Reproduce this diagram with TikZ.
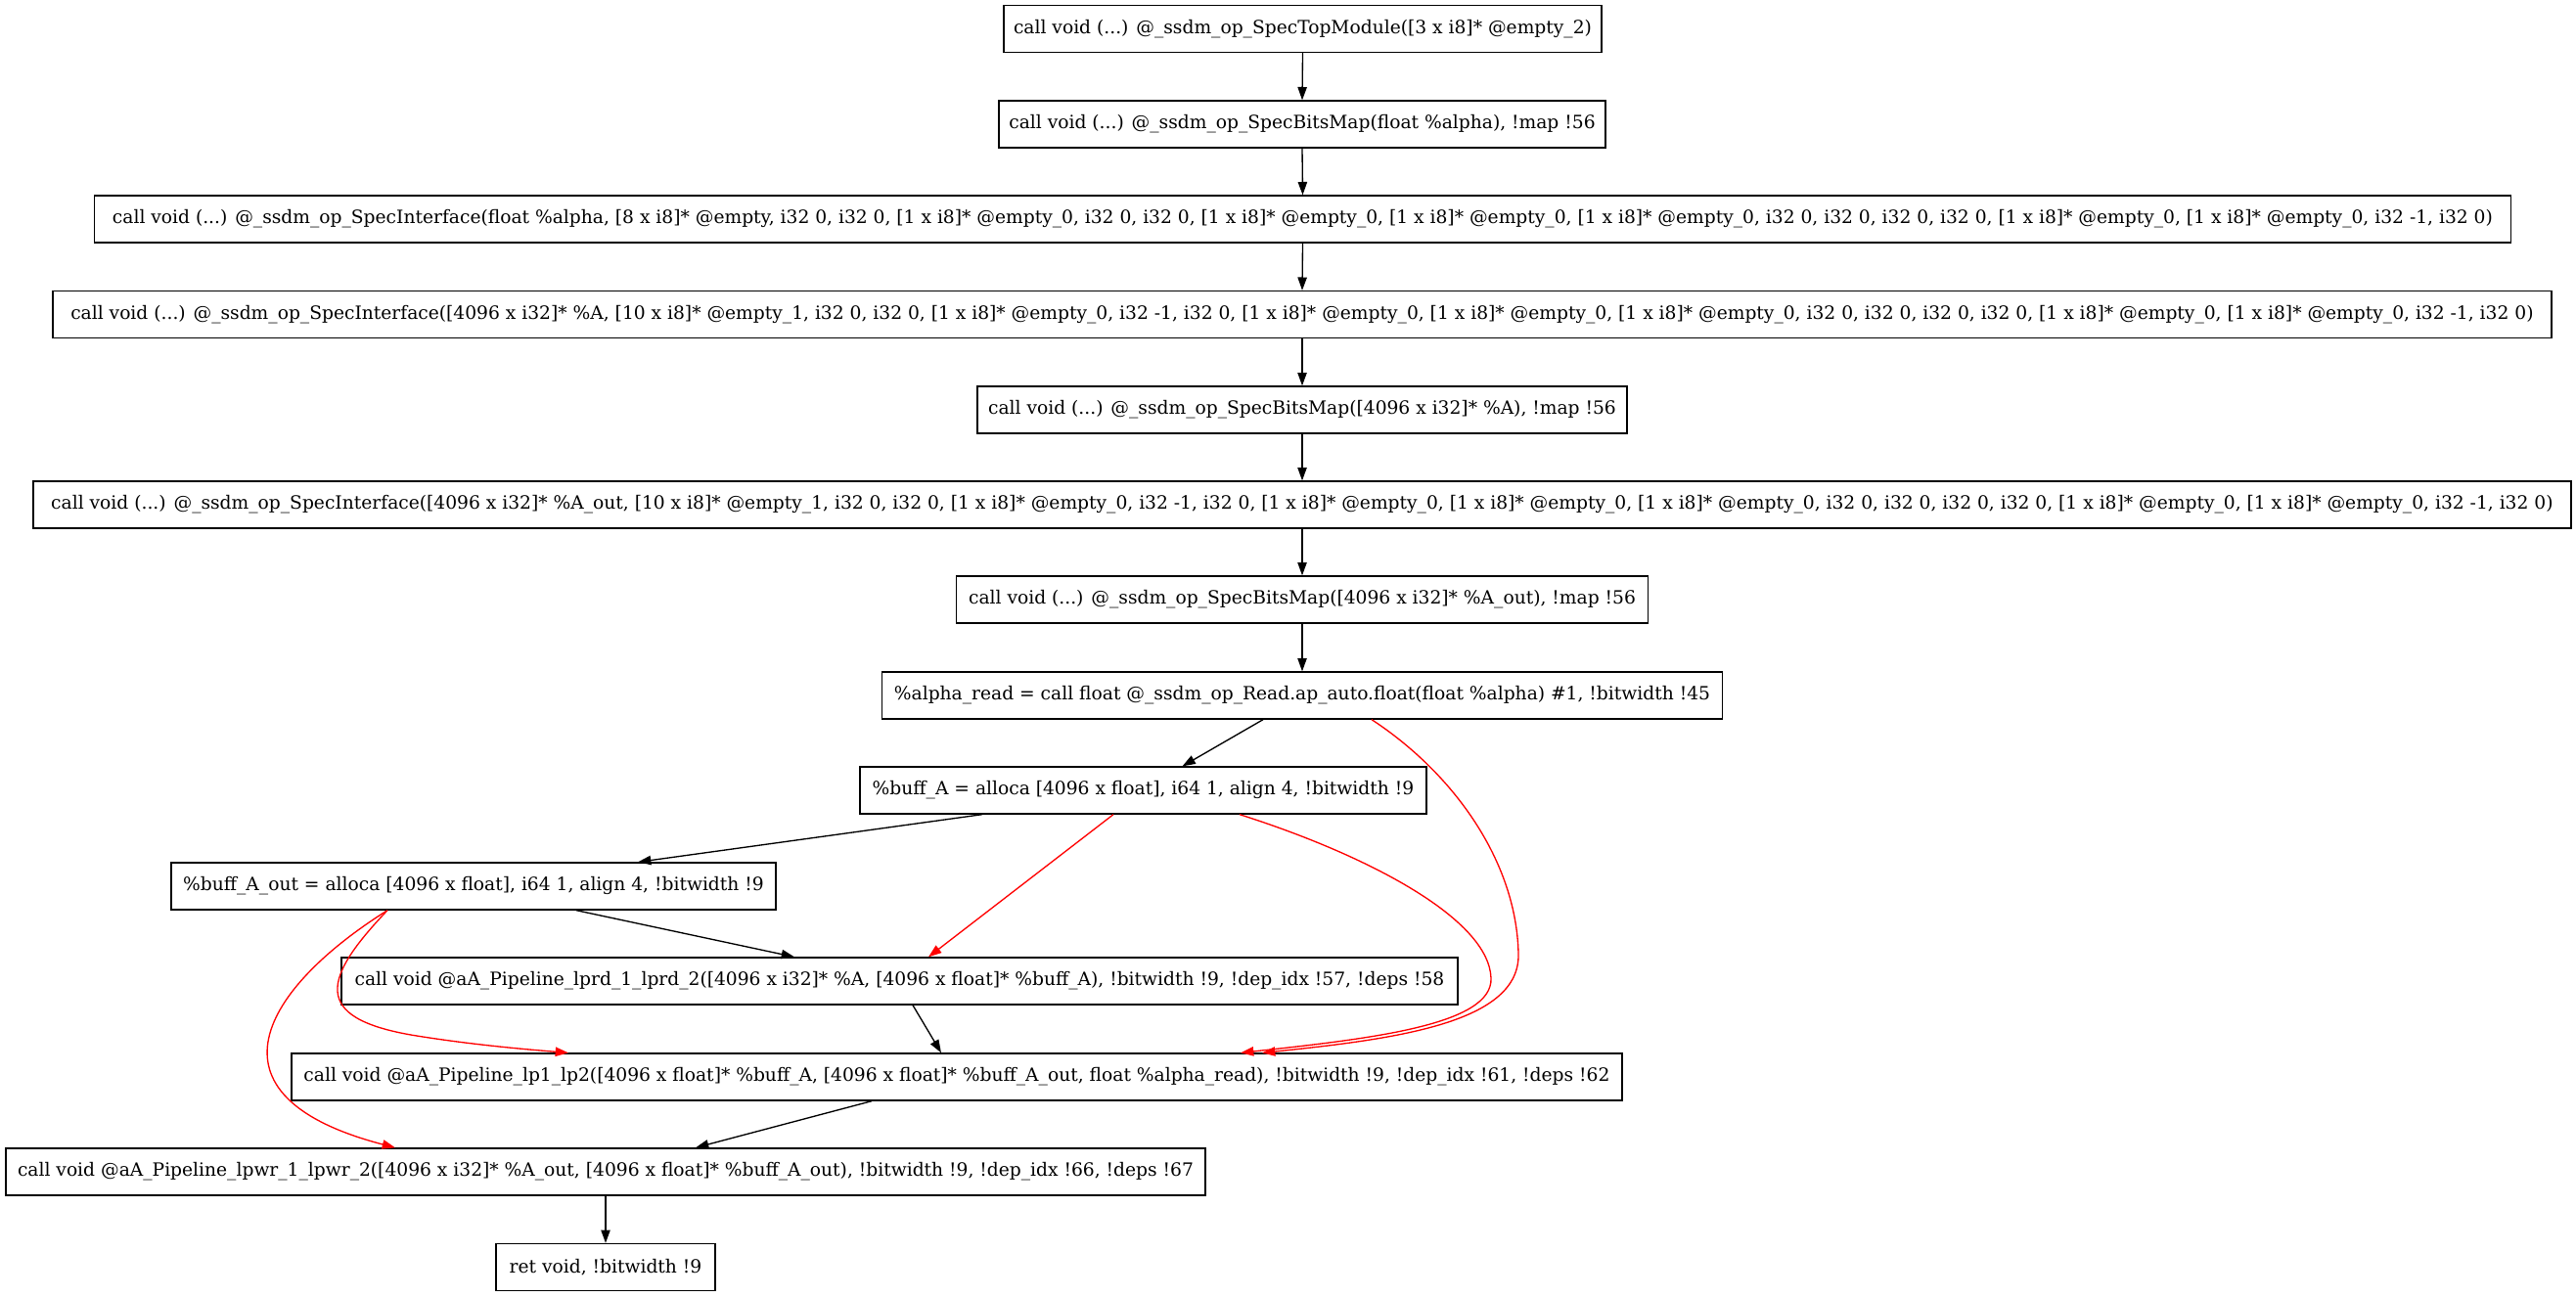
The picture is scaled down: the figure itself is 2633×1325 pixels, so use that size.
\documentclass[tikz,border=0pt]{standalone}
\usepackage{fontspec}
\setmainfont{DejaVu Serif}
\usetikzlibrary{arrows.meta,calc}

\begin{document}
\begin{tikzpicture}[x=0.75pt,y=-0.75pt,
  irbox/.style={draw=black, line width=1pt, inner sep=0pt, minimum height=36pt,
    minimum width=#1*0.75pt, font=\fontsize{14pt}{16pt}\selectfont},
  flow/.style={draw=black, line width=1pt, -{Triangle[length=10pt,width=7pt]}},
  dep/.style={draw=red, line width=1pt, -{Triangle[length=10pt,width=7pt]}, fill=none}]

\useasboundingbox (0,0) rectangle (2633,1325);

% instruction nodes, top to bottom
\node[irbox=611]  (n1)  at (1331.5,29.5) {call void (...) @\_ssdm\_op\_SpecTopModule([3 x i8]* @empty\_2)};
\node[irbox=620]  (n2)  at (1331,127) {call void (...) @\_ssdm\_op\_SpecBitsMap(float \%alpha), !map !56};
\node[irbox=2470] (n3)  at (1331.5,224) {call void (...) @\_ssdm\_op\_SpecInterface(float \%alpha, [8 x i8]* @empty, i32 0, i32 0, [1 x i8]* @empty\_0, i32 0, i32 0, [1 x i8]* @empty\_0, [1 x i8]* @empty\_0, [1 x i8]* @empty\_0, i32 0, i32 0, i32 0, i32 0, [1 x i8]* @empty\_0, [1 x i8]* @empty\_0, i32 -1, i32 0)};
\node[irbox=2554] (n4)  at (1331,321.5) {call void (...) @\_ssdm\_op\_SpecInterface([4096 x i32]* \%A, [10 x i8]* @empty\_1, i32 0, i32 0, [1 x i8]* @empty\_0, i32 -1, i32 0, [1 x i8]* @empty\_0, [1 x i8]* @empty\_0, [1 x i8]* @empty\_0, i32 0, i32 0, i32 0, i32 0, [1 x i8]* @empty\_0, [1 x i8]* @empty\_0, i32 -1, i32 0)};
\node[irbox=664]  (n5)  at (1331,419) {call void (...) @\_ssdm\_op\_SpecBitsMap([4096 x i32]* \%A), !map !56};
\node[irbox=2594] (n6)  at (1331,516) {call void (...) @\_ssdm\_op\_SpecInterface([4096 x i32]* \%A\_out, [10 x i8]* @empty\_1, i32 0, i32 0, [1 x i8]* @empty\_0, i32 -1, i32 0, [1 x i8]* @empty\_0, [1 x i8]* @empty\_0, [1 x i8]* @empty\_0, i32 0, i32 0, i32 0, i32 0, [1 x i8]* @empty\_0, [1 x i8]* @empty\_0, i32 -1, i32 0)};
\node[irbox=707]  (n7)  at (1331,613) {call void (...) @\_ssdm\_op\_SpecBitsMap([4096 x i32]* \%A\_out), !map !56};
\node[irbox=859]  (n8)  at (1331,711) {\%alpha\_read = call float @\_ssdm\_op\_Read.ap\_auto.float(float \%alpha) \#1, !bitwidth !45};
\node[irbox=579]  (n9)  at (1168.5,808) {\%buff\_A = alloca [4096 x float], i64 1, align 4, !bitwidth !9};
\node[irbox=618]  (n10) at (484,906) {\%buff\_A\_out = alloca [4096 x float], i64 1, align 4, !bitwidth !9};
\node[irbox=1141] (n11) at (919.5,1003) {call void @aA\_Pipeline\_lprd\_1\_lprd\_2([4096 x i32]* \%A, [4096 x float]* \%buff\_A), !bitwidth !9, !dep\_idx !57, !deps !58};
\node[irbox=1360] (n12) at (978,1101) {call void @aA\_Pipeline\_lp1\_lp2([4096 x float]* \%buff\_A, [4096 x float]* \%buff\_A\_out, float \%alpha\_read), !bitwidth !9, !dep\_idx !61, !deps !62};
\node[irbox=1226] (n13) at (619,1198) {call void @aA\_Pipeline\_lpwr\_1\_lpwr\_2([4096 x i32]* \%A\_out, [4096 x float]* \%buff\_A\_out), !bitwidth !9, !dep\_idx !66, !deps !67};
\node[irbox=224]  (n14) at (619,1295.5) {ret void, !bitwidth !9};

% control flow
\draw[flow] (n1.south) -- (n2.north);
\draw[flow] (n2.south) -- (n3.north);
\draw[flow] (n3.south) -- (n4.north);
\draw[flow] (n4.south) -- (n5.north);
\draw[flow] (n5.south) -- (n6.north);
\draw[flow] (n6.south) -- (n7.north);
\draw[flow] (n7.south) -- (n8.north);
\draw[flow] ($(n8.south)+(-40,0)$) -- ($(n9.north)+(40,0)$);
\draw[flow] ($(n9.south)+(-164.5,0)$) -- ($(n10.north)+(168,0)$);
\draw[flow] ($(n10.south)+(105,0)$) -- ($(n11.north)+(-107.5,0)$);
\draw[flow] ($(n11.south)+(13.5,0)$) -- ($(n12.north)+(-16,0)$);
\draw[flow] ($(n12.south)+(-87,0)$) -- ($(n13.north)+(92,0)$);
\draw[flow] (n13.south) -- (n14.north);

% data dependencies
\draw[dep] ($(n9.south)+(-30.5,0)$) -- ($(n11.north)+(29.5,0)$);
\draw[dep] ($(n9.south)+(98.5,0)$) .. controls (1400,875) and (1522,940) .. (1524,1000)
  .. controls (1526,1048) and (1400,1062) .. ($(n12.north)+(290,0)$);
\draw[dep] ($(n8.south)+(71,0)$) .. controls (1485,790) and (1550,880) .. (1552,975)
  .. controls (1554,1045) and (1430,1062) .. ($(n12.north)+(312,0)$);
\draw[dep] ($(n10.south)+(-88,0)$) .. controls (330,1000) and (318,1040) .. (420,1058)
  .. controls (480,1068) and (540,1073) .. ($(n12.north)+(-397,0)$);
\draw[dep] ($(n10.south)+(-88,0)$) .. controls (270,1010) and (200,1120) .. ($(n13.north)+(-215,0)$);

\end{tikzpicture}
\end{document}
